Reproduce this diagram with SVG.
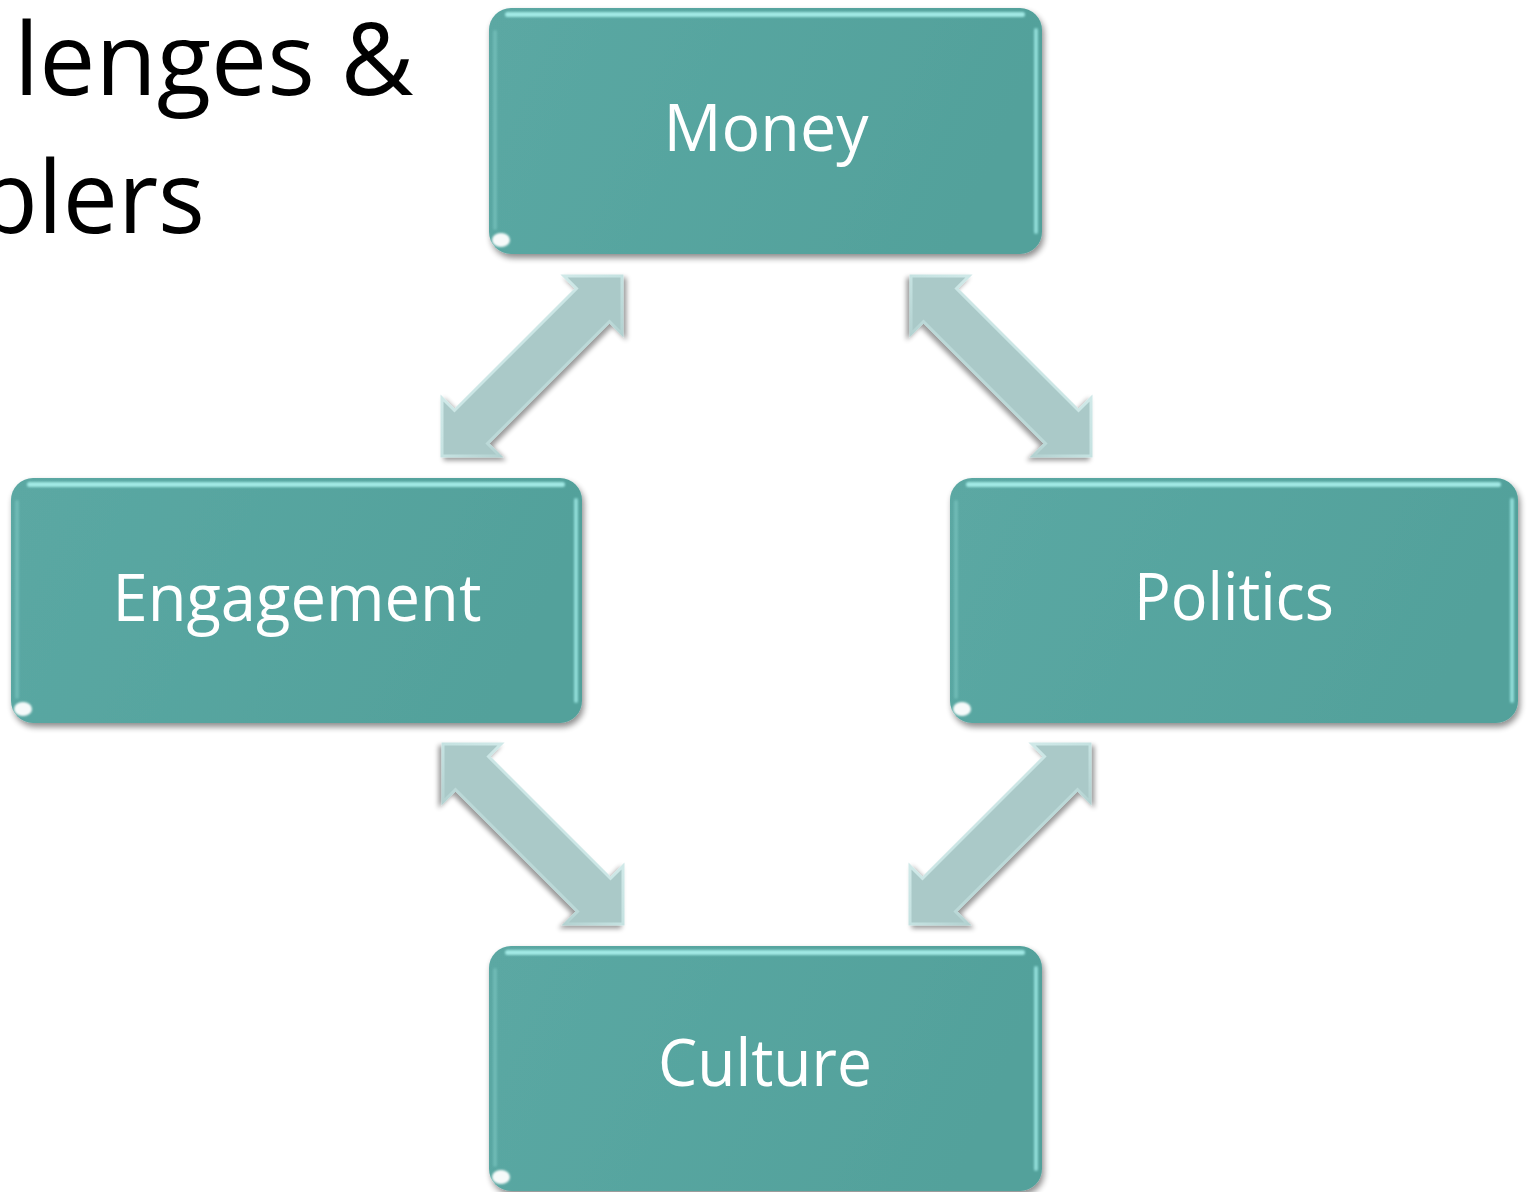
<svg xmlns="http://www.w3.org/2000/svg" xmlns:xlink="http://www.w3.org/1999/xlink" width="1527" height="1192" viewBox="0 0 1527 1192">
<style>
.title{font-family:"Open Sans","Liberation Sans",sans-serif;font-size:100px;fill:#000}
.lbl{font-family:"Open Sans","Liberation Sans",sans-serif;font-size:66px;fill:#ffffff;text-anchor:middle}
.box{fill:url(#boxg);filter:url(#shadow)}
.hl{fill:#aef5f1;opacity:0.85;filter:url(#soft)}
.hlr{fill:#9ee9e5;opacity:0.8;filter:url(#soft)}
.hll{fill:#7cc6c1;opacity:0.6;filter:url(#soft)}
.glint{fill:#ffffff;opacity:0.95;filter:url(#soft)}
.arrow{fill:#aac9c8;stroke:url(#arrg);stroke-width:3;stroke-linejoin:miter;filter:url(#ashadow)}
</style>
<defs>
<linearGradient id="boxg" x1="0" y1="0" x2="1" y2="0.2">
<stop offset="0" stop-color="#5ba8a3"/>
<stop offset="1" stop-color="#52a19b"/>
</linearGradient>
<linearGradient id="arrg" x1="0" y1="0" x2="1" y2="1">
<stop offset="0" stop-color="#e6f7f7"/>
<stop offset="0.5" stop-color="#c5e2e1"/>
<stop offset="1" stop-color="#8fb1b0"/>
</linearGradient>
<filter id="shadow" x="-5%" y="-5%" width="112%" height="115%">
<feGaussianBlur in="SourceAlpha" stdDeviation="3"/>
<feOffset dx="2" dy="4" result="b"/>
<feComponentTransfer><feFuncA type="linear" slope="0.45"/></feComponentTransfer>
<feMerge><feMergeNode/><feMergeNode in="SourceGraphic"/></feMerge>
</filter>
<filter id="ashadow" x="-10%" y="-10%" width="125%" height="125%">
<feGaussianBlur in="SourceAlpha" stdDeviation="2.5"/>
<feOffset dx="3" dy="3" result="b"/>
<feComponentTransfer><feFuncA type="linear" slope="0.4"/></feComponentTransfer>
<feMerge><feMergeNode/><feMergeNode in="SourceGraphic"/></feMerge>
</filter>
<filter id="soft" x="-50%" y="-50%" width="200%" height="200%">
<feGaussianBlur stdDeviation="1.2"/>
</filter>
<path id="darr" d="M180,0 L180,58 L167.5,45.5 L45.5,167.5 L58,180 L0,180 L0,122 L12.5,134.5 L134.5,12.5 L122,0 Z"/>
</defs>
<rect width="1527" height="1192" fill="#ffffff"/>
<g id="title">
<text class="title" x="-214" y="95">Chal<tspan x="14">lenges &amp;</tspan></text>
<text class="title" x="-192" y="233" textLength="397" lengthAdjust="spacingAndGlyphs">Enablers</text>
</g>
<g id="connectors">
<use xlink:href="#darr" class="arrow" transform="translate(442,276)"/>
<use xlink:href="#darr" class="arrow" transform="translate(1091,276) scale(-1,1)"/>
<use xlink:href="#darr" class="arrow" transform="translate(623,744) scale(-1,1)"/>
<use xlink:href="#darr" class="arrow" transform="translate(910,744)"/>
</g>
<g id="money">
<rect class="box" x="489" y="8" width="553" height="246" rx="22"/>
<rect class="hl" x="505" y="12" width="520" height="5" rx="2.5"/>
<rect class="hlr" x="1034" y="28" width="4" height="206" rx="2"/>
<rect class="hll" x="493" y="30" width="4" height="200" rx="2"/>
<ellipse class="glint" cx="501" cy="240" rx="9" ry="7"/>
<text class="lbl" x="766" y="151" textLength="205" lengthAdjust="spacingAndGlyphs">Money</text>
</g>
<g id="engagement">
<rect class="box" x="11" y="478" width="571" height="245" rx="22"/>
<rect class="hl" x="27" y="482" width="538" height="5" rx="2.5"/>
<rect class="hlr" x="574" y="498" width="4" height="205" rx="2"/>
<rect class="hll" x="15" y="500" width="4" height="199" rx="2"/>
<ellipse class="glint" cx="23" cy="709" rx="9" ry="7"/>
<text class="lbl" x="297" y="621" textLength="369" lengthAdjust="spacingAndGlyphs">Engagement</text>
</g>
<g id="politics">
<rect class="box" x="950" y="478" width="568" height="245" rx="22"/>
<rect class="hl" x="966" y="482" width="535" height="5" rx="2.5"/>
<rect class="hlr" x="1510" y="498" width="4" height="205" rx="2"/>
<rect class="hll" x="954" y="500" width="4" height="199" rx="2"/>
<ellipse class="glint" cx="962" cy="709" rx="9" ry="7"/>
<text class="lbl" x="1234" y="620" textLength="200" lengthAdjust="spacingAndGlyphs">Politics</text>
</g>
<g id="culture">
<rect class="box" x="489" y="946" width="553" height="245" rx="22"/>
<rect class="hl" x="505" y="950" width="520" height="5" rx="2.5"/>
<rect class="hlr" x="1034" y="966" width="4" height="205" rx="2"/>
<rect class="hll" x="493" y="968" width="4" height="199" rx="2"/>
<ellipse class="glint" cx="501" cy="1177" rx="9" ry="7"/>
<text class="lbl" x="765" y="1086" textLength="214" lengthAdjust="spacingAndGlyphs">Culture</text>
</g>
</svg>
